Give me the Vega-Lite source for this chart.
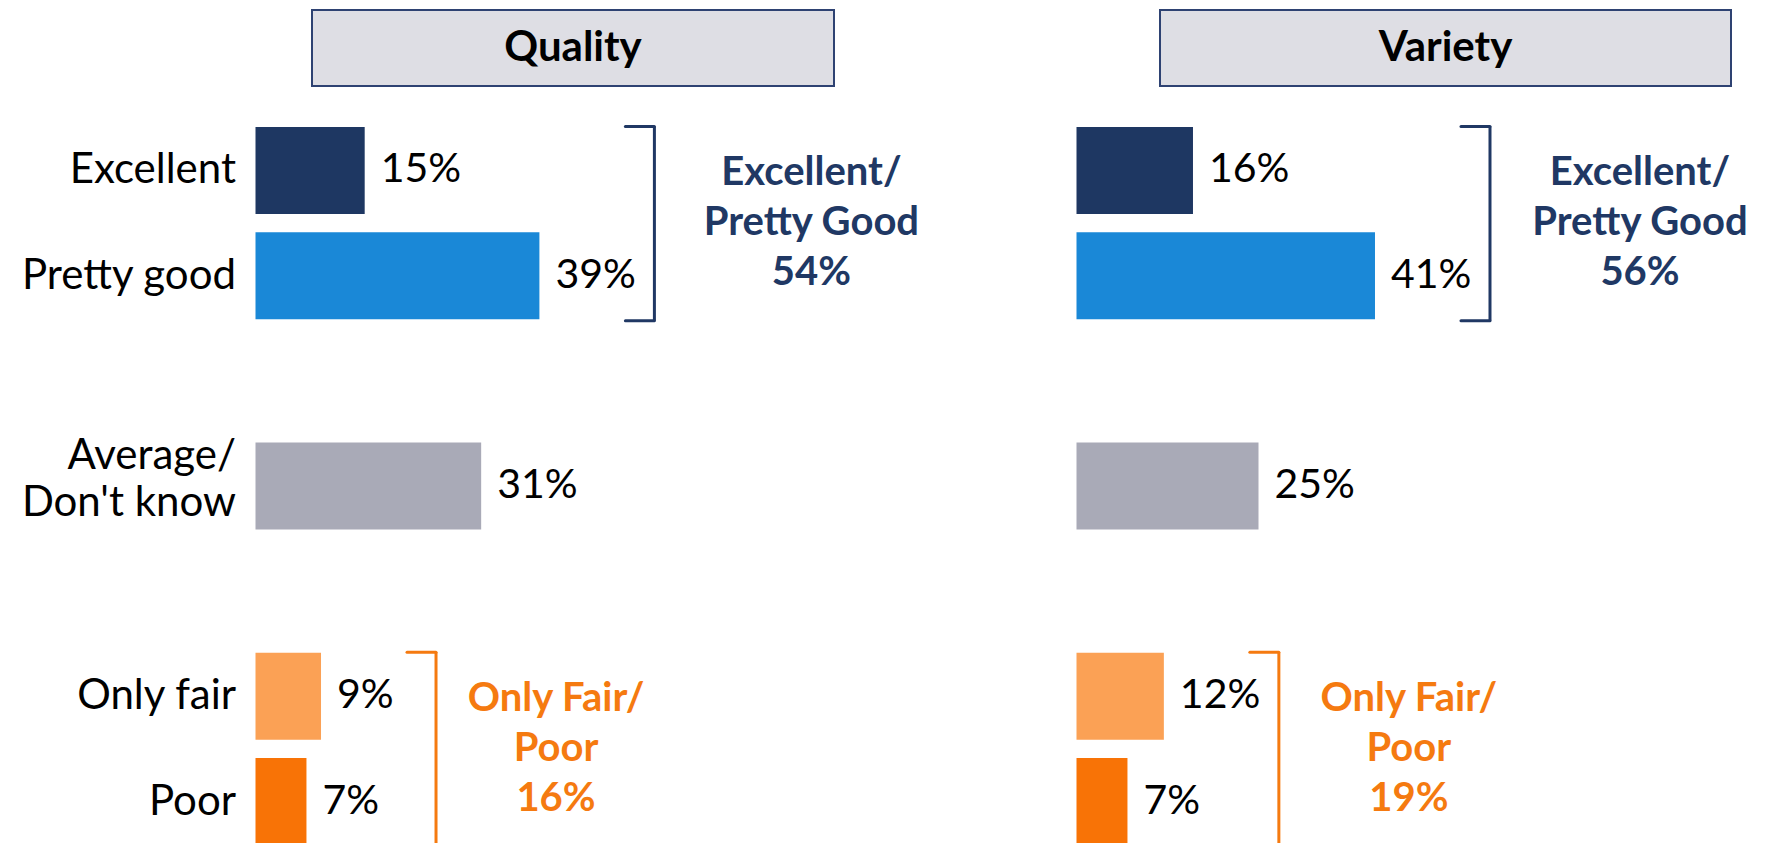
{
  "$schema": "https://vega.github.io/schema/vega-lite/v6.json",
  "background": "white",
  "padding": {"left": 19.5, "top": 9, "right": 0, "bottom": 0},
  "spacing": 156,
  "config": {
    "view": {"stroke": null},
    "font": "Lato",
    "axis": {"labelFont": "Lato", "labelFontSize": 42, "labelColor": "#000000", "ticks": false, "domain": false, "grid": false, "labelPadding": 20, "labelLineHeight": 47, "labelLimit": 0, "title": null}
  },
  "datasets": {
    "panels": [{"panel": "Quality"}, {"panel": "Variety"}],
    "bars": [
      {"panel": "Quality", "answer": "Excellent", "share": 0.15},
      {"panel": "Quality", "answer": "Pretty good", "share": 0.39},
      {"panel": "Quality", "answer": "Average/Don't know", "share": 0.31},
      {"panel": "Quality", "answer": "Only fair", "share": 0.09},
      {"panel": "Quality", "answer": "Poor", "share": 0.07},
      {"panel": "Variety", "answer": "Excellent", "share": 0.16},
      {"panel": "Variety", "answer": "Pretty good", "share": 0.41},
      {"panel": "Variety", "answer": "Average/Don't know", "share": 0.25},
      {"panel": "Variety", "answer": "Only fair", "share": 0.12},
      {"panel": "Variety", "answer": "Poor", "share": 0.07}
    ],
    "brackets": [
      {"panel": "Quality", "grp": "pos", "top": "Excellent", "bottom": "Pretty good", "peak": 0.39, "label": "Excellent/\nPretty Good\n54%"},
      {"panel": "Quality", "grp": "neg", "top": "Only fair", "bottom": "Poor", "peak": 0.09, "label": "Only Fair/\nPoor\n16%"},
      {"panel": "Variety", "grp": "pos", "top": "Excellent", "bottom": "Pretty good", "peak": 0.41, "label": "Excellent/\nPretty Good\n56%"},
      {"panel": "Variety", "grp": "neg", "top": "Only fair", "bottom": "Poor", "peak": 0.12, "label": "Only Fair/\nPoor\n19%"}
    ]
  },
  "hconcat": [
    {
      "bounds": "flush",
      "center": true,
      "spacing": 41,
      "vconcat": [
        {
          "data": {"name": "panels"},
          "transform": [{"filter": "datum.panel == 'Quality'"}],
          "width": 522,
          "height": 76,
          "view": {"fill": "#DEDEE4", "stroke": "#2E4272", "strokeWidth": 2},
          "mark": {"type": "text", "font": "Lato", "fontWeight": "bold", "fontSize": 42, "align": "center", "baseline": "middle", "color": "#000000"},
          "encoding": {"text": {"field": "panel"}}
        },
        {
          "width": 635,
          "height": 718,
          "encoding": {
            "y": {"field": "answer", "type": "nominal", "title": null,
              "scale": {"domain": ["Excellent", "Pretty good", "gap1", "Average/Don't know", "gap2", "Only fair", "Poor"], "paddingInner": 0.173, "paddingOuter": 0},
              "axis": {
                "labelExpr": "datum.value == 'gap1' || datum.value == 'gap2' ? '' : (datum.value == \"Average/Don't know\" ? ['Average/', \"Don't know\"] : datum.value)",
                "labelOffset": {"condition": {"test": "datum.value == \"Average/Don't know\"", "value": -30}, "value": 0}
              }}
          },
          "layer": [
            {
              "data": {"name": "bars"},
              "transform": [{"filter": "datum.panel == 'Quality'"}],
              "mark": {"type": "bar"},
              "encoding": {
                "x": {"field": "share", "type": "quantitative", "scale": {"domain": [0, 0.8723], "nice": false, "zero": true}, "axis": null},
                "color": {"field": "answer", "type": "nominal", "legend": null,
                  "scale": {"domain": ["Excellent", "Pretty good", "Average/Don't know", "Only fair", "Poor"], "range": ["#1E3762", "#1A88D7", "#A9AAB7", "#FBA155", "#F87306"]}}
              }
            },
            {
              "data": {"name": "bars"},
              "transform": [{"filter": "datum.panel == 'Quality'"}],
              "mark": {"type": "text", "align": "left", "baseline": "middle", "dx": 16, "font": "Lato", "fontSize": 41, "color": "#000000"},
              "encoding": {
                "x": {"field": "share", "type": "quantitative"},
                "text": {"field": "share", "type": "quantitative", "format": ".0%"}
              }
            },
            {
              "data": {"name": "brackets"},
              "transform": [{"filter": "datum.panel == 'Quality'"}],
              "mark": {"type": "rule", "strokeWidth": 3, "xOffset": 115, "yOffset": -44, "y2Offset": 45},
              "encoding": {
                "x": {"field": "peak", "type": "quantitative"},
                "y": {"field": "top", "type": "nominal"},
                "y2": {"field": "bottom"},
                "stroke": {"field": "grp", "type": "nominal", "legend": null, "scale": {"domain": ["pos", "neg"], "range": ["#203864", "#F57A10"]}}
              }
            },
            {
              "data": {"name": "brackets"},
              "transform": [{"filter": "datum.panel == 'Quality'"}],
              "mark": {"type": "rule", "strokeWidth": 3, "strokeCap": "round", "xOffset": 86, "x2Offset": 115, "yOffset": -44},
              "encoding": {
                "x": {"field": "peak", "type": "quantitative"},
                "x2": {"field": "peak"},
                "y": {"field": "top", "type": "nominal"},
                "stroke": {"field": "grp", "type": "nominal", "legend": null}
              }
            },
            {
              "data": {"name": "brackets"},
              "transform": [{"filter": "datum.panel == 'Quality'"}],
              "mark": {"type": "rule", "strokeWidth": 3, "strokeCap": "round", "xOffset": 86, "x2Offset": 115, "yOffset": 45},
              "encoding": {
                "x": {"field": "peak", "type": "quantitative"},
                "x2": {"field": "peak"},
                "y": {"field": "bottom", "type": "nominal"},
                "stroke": {"field": "grp", "type": "nominal", "legend": null}
              }
            },
            {
              "data": {"name": "brackets"},
              "transform": [{"filter": "datum.panel == 'Quality' && datum.grp == 'pos'"}],
              "mark": {"type": "text", "align": "center", "baseline": "middle", "dx": 272, "dy": 3, "lineBreak": "\n", "lineHeight": 50, "font": "Lato", "fontWeight": "bold", "fontSize": 40, "color": "#203864"},
              "encoding": {
                "x": {"field": "peak", "type": "quantitative"},
                "y": {"field": "top", "type": "nominal"},
                "text": {"field": "label"}
              }
            },
            {
              "data": {"name": "brackets"},
              "transform": [{"filter": "datum.panel == 'Quality' && datum.grp == 'neg'"}],
              "mark": {"type": "text", "align": "center", "baseline": "middle", "dx": 235, "dy": 3, "lineBreak": "\n", "lineHeight": 50, "font": "Lato", "fontWeight": "bold", "fontSize": 40, "color": "#F57A10"},
              "encoding": {
                "x": {"field": "peak", "type": "quantitative"},
                "y": {"field": "top", "type": "nominal"},
                "text": {"field": "label"}
              }
            }
          ]
        }
      ]
    },
    {
      "bounds": "flush",
      "center": true,
      "spacing": 41,
      "vconcat": [
        {
          "data": {"name": "panels"},
          "transform": [{"filter": "datum.panel == 'Variety'"}],
          "width": 571,
          "height": 76,
          "view": {"fill": "#DEDEE4", "stroke": "#2E4272", "strokeWidth": 2},
          "mark": {"type": "text", "font": "Lato", "fontWeight": "bold", "fontSize": 42, "align": "center", "baseline": "middle", "color": "#000000"},
          "encoding": {"text": {"field": "panel"}}
        },
        {
          "width": 738,
          "height": 718,
          "encoding": {
            "y": {"field": "answer", "type": "nominal", "title": null,
              "scale": {"domain": ["Excellent", "Pretty good", "gap1", "Average/Don't know", "gap2", "Only fair", "Poor"], "paddingInner": 0.173, "paddingOuter": 0},
              "axis": null}
          },
          "layer": [
            {
              "data": {"name": "bars"},
              "transform": [{"filter": "datum.panel == 'Variety'"}],
              "mark": {"type": "bar"},
              "encoding": {
                "x": {"field": "share", "type": "quantitative", "scale": {"domain": [0, 1.0137], "nice": false, "zero": true}, "axis": null},
                "color": {"field": "answer", "type": "nominal", "legend": null,
                  "scale": {"domain": ["Excellent", "Pretty good", "Average/Don't know", "Only fair", "Poor"], "range": ["#1E3762", "#1A88D7", "#A9AAB7", "#FBA155", "#F87306"]}}
              }
            },
            {
              "data": {"name": "bars"},
              "transform": [{"filter": "datum.panel == 'Variety'"}],
              "mark": {"type": "text", "align": "left", "baseline": "middle", "dx": 16, "font": "Lato", "fontSize": 41, "color": "#000000"},
              "encoding": {
                "x": {"field": "share", "type": "quantitative"},
                "text": {"field": "share", "type": "quantitative", "format": ".0%"}
              }
            },
            {
              "data": {"name": "brackets"},
              "transform": [{"filter": "datum.panel == 'Variety'"}],
              "mark": {"type": "rule", "strokeWidth": 3, "xOffset": 115, "yOffset": -44, "y2Offset": 45},
              "encoding": {
                "x": {"field": "peak", "type": "quantitative"},
                "y": {"field": "top", "type": "nominal", "axis": null},
                "y2": {"field": "bottom"},
                "stroke": {"field": "grp", "type": "nominal", "legend": null, "scale": {"domain": ["pos", "neg"], "range": ["#203864", "#F57A10"]}}
              }
            },
            {
              "data": {"name": "brackets"},
              "transform": [{"filter": "datum.panel == 'Variety'"}],
              "mark": {"type": "rule", "strokeWidth": 3, "strokeCap": "round", "xOffset": 86, "x2Offset": 115, "yOffset": -44},
              "encoding": {
                "x": {"field": "peak", "type": "quantitative"},
                "x2": {"field": "peak"},
                "y": {"field": "top", "type": "nominal", "axis": null},
                "stroke": {"field": "grp", "type": "nominal", "legend": null}
              }
            },
            {
              "data": {"name": "brackets"},
              "transform": [{"filter": "datum.panel == 'Variety'"}],
              "mark": {"type": "rule", "strokeWidth": 3, "strokeCap": "round", "xOffset": 86, "x2Offset": 115, "yOffset": 45},
              "encoding": {
                "x": {"field": "peak", "type": "quantitative"},
                "x2": {"field": "peak"},
                "y": {"field": "bottom", "type": "nominal", "axis": null},
                "stroke": {"field": "grp", "type": "nominal", "legend": null}
              }
            },
            {
              "data": {"name": "brackets"},
              "transform": [{"filter": "datum.panel == 'Variety' && datum.grp == 'pos'"}],
              "mark": {"type": "text", "align": "center", "baseline": "middle", "dx": 265, "dy": 3, "lineBreak": "\n", "lineHeight": 50, "font": "Lato", "fontWeight": "bold", "fontSize": 40, "color": "#203864"},
              "encoding": {
                "x": {"field": "peak", "type": "quantitative"},
                "y": {"field": "top", "type": "nominal", "axis": null},
                "text": {"field": "label"}
              }
            },
            {
              "data": {"name": "brackets"},
              "transform": [{"filter": "datum.panel == 'Variety' && datum.grp == 'neg'"}],
              "mark": {"type": "text", "align": "center", "baseline": "middle", "dx": 245, "dy": 3, "lineBreak": "\n", "lineHeight": 50, "font": "Lato", "fontWeight": "bold", "fontSize": 40, "color": "#F57A10"},
              "encoding": {
                "x": {"field": "peak", "type": "quantitative"},
                "y": {"field": "top", "type": "nominal", "axis": null},
                "text": {"field": "label"}
              }
            }
          ]
        }
      ]
    }
  ]
}
